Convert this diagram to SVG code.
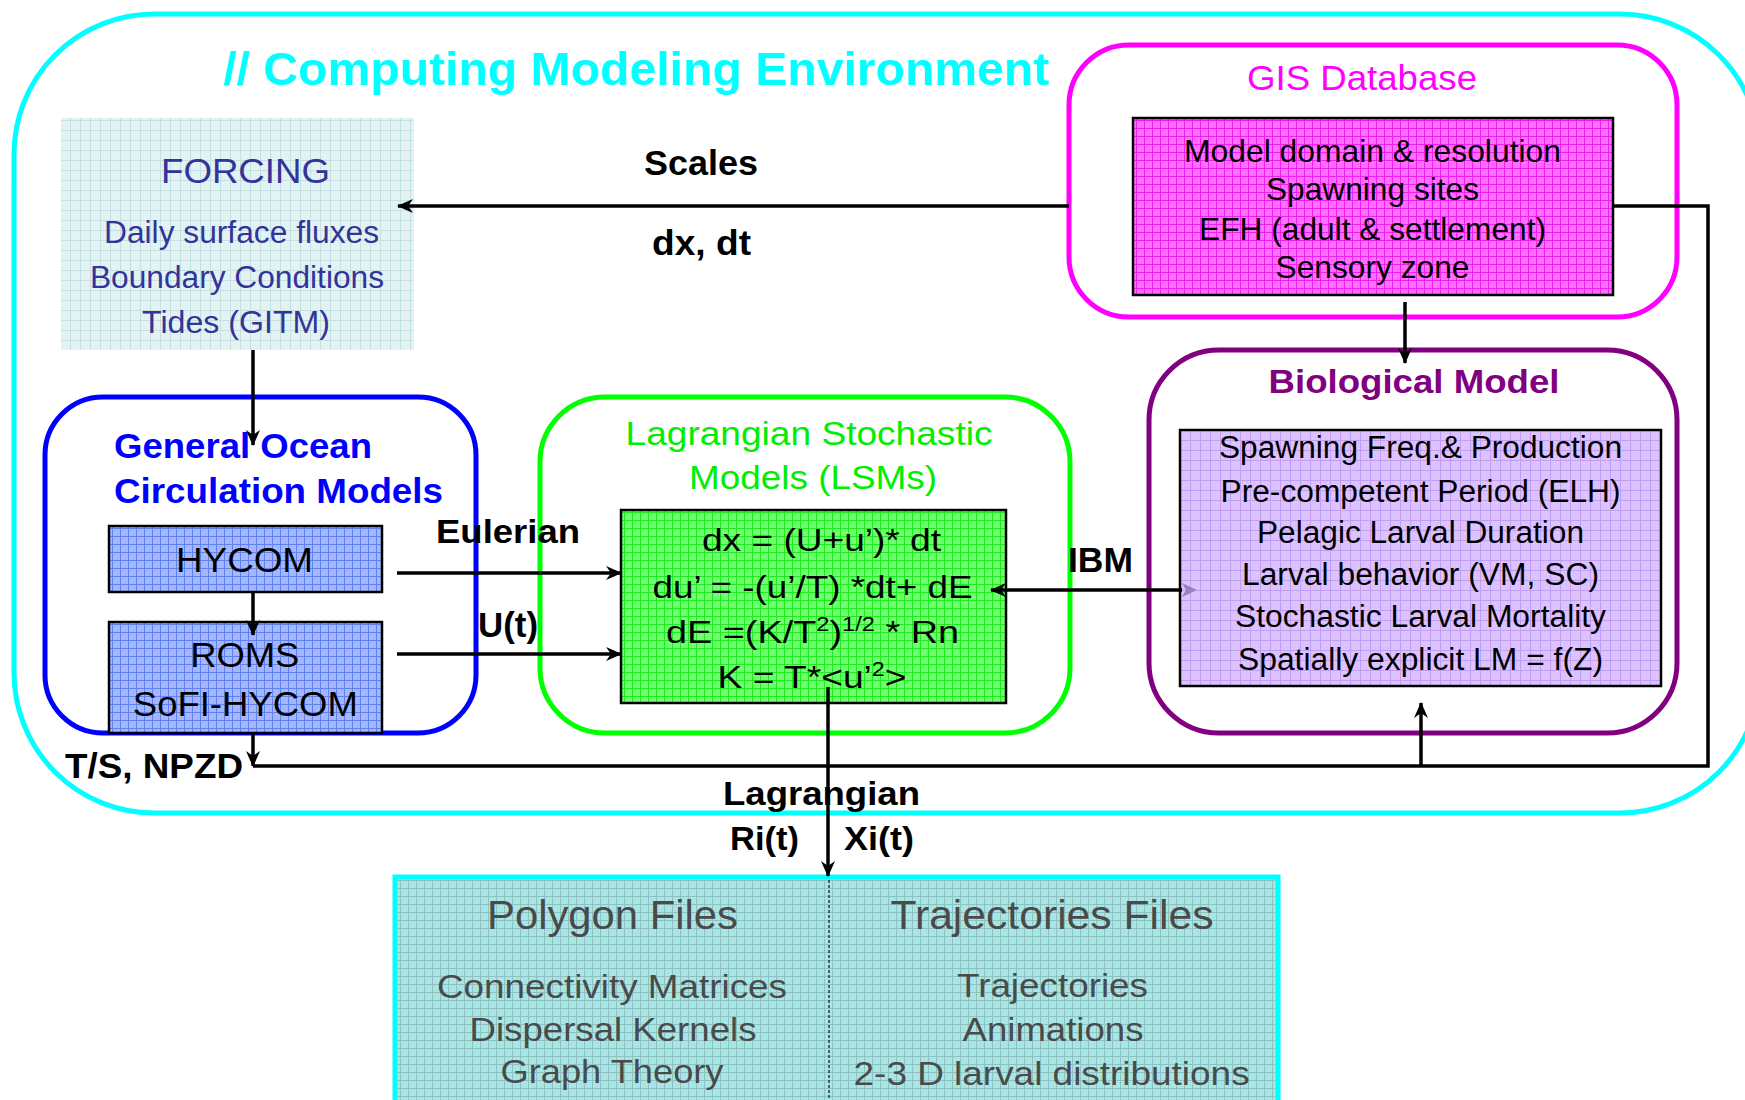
<svg xmlns="http://www.w3.org/2000/svg" width="1745" height="1100" viewBox="0 0 1745 1100">
<style>
text { font-family: "Liberation Sans", Arial, Helvetica, sans-serif; }
.b { font-weight: bold; }
.c { text-anchor: middle; }
.conn { stroke: #000; stroke-width: 3.5; fill: none; }
.inner { stroke: #000; stroke-width: 2.5; }
.cont { fill: #fff; stroke-width: 5; }
</style>
<defs>
<marker id="ah" viewBox="0 0 16 14" refX="15" refY="7" markerWidth="16" markerHeight="14" orient="auto" markerUnits="userSpaceOnUse">
<path d="M0,0 L16,7 L0,14 L5,7 Z" fill="#000"/>
</marker>
<pattern id="pForcing" width="10" height="10" patternUnits="userSpaceOnUse">
<rect width="10" height="10" fill="#E3F2F2"/><path d="M0,0.5 H10 M0.5,0 V10" stroke="#C4E0E0" stroke-width="1"/>
</pattern>
<pattern id="pMag" width="8" height="8" patternUnits="userSpaceOnUse">
<rect width="8" height="8" fill="#FF6EFF"/><path d="M0,0.5 H8 M0.5,0 V8" stroke="#EE22EE" stroke-width="1"/>
</pattern>
<pattern id="pBlue" width="8" height="8" patternUnits="userSpaceOnUse">
<rect width="8" height="8" fill="#A3B6FF"/><path d="M0,0.5 H8 M0.5,0 V8" stroke="#5F82F0" stroke-width="1"/>
</pattern>
<pattern id="pGreen" width="8" height="8" patternUnits="userSpaceOnUse">
<rect width="8" height="8" fill="#6EFF6E"/><path d="M0,0.5 H8 M0.5,0 V8" stroke="#22EA22" stroke-width="1"/>
</pattern>
<pattern id="pPurple" width="10" height="10" patternUnits="userSpaceOnUse">
<rect width="10" height="10" fill="#DCC2FF"/><path d="M0,0.5 H10 M0.5,0 V10" stroke="#C09EF2" stroke-width="1"/>
</pattern>
<pattern id="pTeal" width="8" height="8" patternUnits="userSpaceOnUse">
<rect width="8" height="8" fill="#A8E6E6"/><path d="M0,0.5 H8 M0.5,0 V8" stroke="#8EC2C2" stroke-width="1"/>
</pattern>
</defs>
<rect width="1745" height="1100" fill="#fff"/>

<g id="environment">
<rect x="14" y="14" width="1746" height="799" rx="140" ry="140" fill="none" stroke="#00FFFF" stroke-width="5"/>
<text x="223" y="85" class="b" font-size="46" fill="#00FFFF" textLength="826" lengthAdjust="spacingAndGlyphs">// Computing Modeling Environment</text>
</g>

<g id="forcing">
<rect x="61" y="118" width="353" height="232" fill="url(#pForcing)"/>
<g fill="#333399" class="c">
<text x="245.5" y="183" font-size="35" textLength="169" lengthAdjust="spacingAndGlyphs">FORCING</text>
<text x="241.5" y="243" font-size="31" textLength="275" lengthAdjust="spacingAndGlyphs">Daily surface fluxes</text>
<text x="237" y="288" font-size="31" textLength="294" lengthAdjust="spacingAndGlyphs">Boundary Conditions</text>
<text x="236" y="333" font-size="31" textLength="188" lengthAdjust="spacingAndGlyphs">Tides (GITM)</text>
</g>
</g>

<g id="gis">
<rect x="1069" y="45" width="608" height="272" rx="60" class="cont" stroke="#FF00FF"/>
<text x="1362" y="90" class="c" font-size="35" fill="#FF00FF" textLength="230" lengthAdjust="spacingAndGlyphs">GIS Database</text>
<rect x="1133" y="118" width="480" height="177" fill="url(#pMag)" class="inner"/>
<g class="c" font-size="30.5" fill="#000">
<text x="1372.5" y="162" textLength="377" lengthAdjust="spacingAndGlyphs">Model domain &amp; resolution</text>
<text x="1372.5" y="200" textLength="213" lengthAdjust="spacingAndGlyphs">Spawning sites</text>
<text x="1372.5" y="240" textLength="347" lengthAdjust="spacingAndGlyphs">EFH (adult &amp; settlement)</text>
<text x="1372.5" y="278" textLength="194" lengthAdjust="spacingAndGlyphs">Sensory zone</text>
</g>
</g>

<g id="bio">
<rect x="1149" y="350" width="528" height="383" rx="70" class="cont" stroke="#800080"/>
<text x="1414" y="393" class="b c" font-size="33" fill="#800080" textLength="291" lengthAdjust="spacingAndGlyphs">Biological Model</text>
<rect x="1180" y="430" width="481" height="256" fill="url(#pPurple)" class="inner"/>
<g class="c" font-size="31" fill="#000">
<text x="1420.5" y="458" textLength="403" lengthAdjust="spacingAndGlyphs">Spawning Freq.&amp; Production</text>
<text x="1420.5" y="502" textLength="400" lengthAdjust="spacingAndGlyphs">Pre-competent Period (ELH)</text>
<text x="1420.5" y="543" textLength="327" lengthAdjust="spacingAndGlyphs">Pelagic Larval Duration</text>
<text x="1420.5" y="585" textLength="357" lengthAdjust="spacingAndGlyphs">Larval behavior (VM, SC)</text>
<text x="1420.5" y="627" textLength="371" lengthAdjust="spacingAndGlyphs">Stochastic Larval Mortality</text>
<text x="1420.5" y="670" textLength="365" lengthAdjust="spacingAndGlyphs">Spatially explicit LM = f(Z)</text>
</g>
</g>

<g id="lsm">
<rect x="540" y="397" width="530" height="336" rx="65" class="cont" stroke="#00FF00"/>
<g class="c" font-size="33" fill="#00EE00">
<text x="809" y="445" textLength="367" lengthAdjust="spacingAndGlyphs">Lagrangian Stochastic</text>
<text x="813" y="489" textLength="248" lengthAdjust="spacingAndGlyphs">Models (LSMs)</text>
</g>
<rect x="621" y="510" width="385" height="193" fill="url(#pGreen)" class="inner"/>
<g class="c" font-size="32" fill="#000">
<text x="821.5" y="551" textLength="239" lengthAdjust="spacingAndGlyphs">dx = (U+u’)* dt</text>
<text x="812.5" y="598" textLength="320" lengthAdjust="spacingAndGlyphs">du’ = -(u’/T) *dt+ dE</text>
<text x="812.5" y="643" textLength="293" lengthAdjust="spacingAndGlyphs">dE =(K/T<tspan font-size="20" dy="-12">2</tspan><tspan dy="12">)</tspan><tspan font-size="20" dy="-12">1/2</tspan><tspan dy="12"> * Rn</tspan></text>
<text x="812" y="688" textLength="189" lengthAdjust="spacingAndGlyphs">K = T*&lt;u’<tspan font-size="20" dy="-12">2</tspan><tspan dy="12">&gt;</tspan></text>
</g>
</g>

<g id="gocm">
<rect x="45" y="397" width="431" height="336" rx="58" class="cont" stroke="#0000FF"/>
<g class="b" font-size="35" fill="#0000FF">
<text x="114" y="458" textLength="258" lengthAdjust="spacingAndGlyphs">General Ocean</text>
<text x="114" y="503" textLength="329" lengthAdjust="spacingAndGlyphs">Circulation Models</text>
</g>
</g>

<g id="hycom">
<rect x="109" y="526" width="273" height="66" fill="url(#pBlue)" class="inner"/>
<text x="244.5" y="572" class="c" font-size="35" textLength="137" lengthAdjust="spacingAndGlyphs">HYCOM</text>
</g>

<g id="roms">
<rect x="109" y="622" width="273" height="111" fill="url(#pBlue)" class="inner"/>
<text x="244.7" y="667" class="c" font-size="35" textLength="109" lengthAdjust="spacingAndGlyphs">ROMS</text>
<text x="245.3" y="716" class="c" font-size="35" textLength="225" lengthAdjust="spacingAndGlyphs">SoFI-HYCOM</text>
</g>

<g id="outputs">
<rect x="395" y="877" width="883" height="240" fill="url(#pTeal)" stroke="#00FFFF" stroke-width="5"/>
<line x1="829" y1="880" x2="829" y2="1100" stroke="#333" stroke-width="1.5" stroke-dasharray="3,2"/>
<g class="c" fill="#4A4A4A">
<text x="612.5" y="929" font-size="40" textLength="251" lengthAdjust="spacingAndGlyphs">Polygon Files</text>
<text x="612" y="998" font-size="33" textLength="350" lengthAdjust="spacingAndGlyphs">Connectivity Matrices</text>
<text x="613" y="1041" font-size="33" textLength="287" lengthAdjust="spacingAndGlyphs">Dispersal Kernels</text>
<text x="612" y="1083" font-size="33" textLength="223" lengthAdjust="spacingAndGlyphs">Graph Theory</text>
<text x="1052" y="929" font-size="40" textLength="323" lengthAdjust="spacingAndGlyphs">Trajectories Files</text>
<text x="1052.5" y="997" font-size="33" textLength="191" lengthAdjust="spacingAndGlyphs">Trajectories</text>
<text x="1053" y="1041" font-size="33" textLength="181" lengthAdjust="spacingAndGlyphs">Animations</text>
<text x="1051.6" y="1085" font-size="33" textLength="396" lengthAdjust="spacingAndGlyphs">2-3 D larval distributions</text>
</g>
</g>

<g id="connectors">
<path class="conn" d="M1069,206 H398" marker-end="url(#ah)"/>
<path class="conn" d="M253,350 V445" marker-end="url(#ah)"/>
<path class="conn" d="M253,592 V635" marker-end="url(#ah)"/>
<path class="conn" d="M253,733 V766" marker-end="url(#ah)"/>
<path class="conn" d="M1613,206 H1708 V766 H253"/>
<path class="conn" d="M1421,766 V703" marker-end="url(#ah)"/>
<path class="conn" d="M1405,302 V363" marker-end="url(#ah)"/>
<path class="conn" d="M397,573 H621" marker-end="url(#ah)"/>
<path class="conn" d="M397,654 H621" marker-end="url(#ah)"/>
<path class="conn" d="M1182,590 H991" marker-end="url(#ah)"/>
<path d="M1182,583 L1197,590 L1182,597 L1186,590 Z" fill="#9A80C0"/>
<path class="conn" d="M828,687 V876" marker-end="url(#ah)"/>
</g>

<g id="labels" class="b" fill="#000">
<text x="701" y="175" class="c" font-size="35" textLength="114" lengthAdjust="spacingAndGlyphs">Scales</text>
<text x="701.5" y="255" class="c" font-size="35" textLength="99" lengthAdjust="spacingAndGlyphs">dx, dt</text>
<text x="436" y="543" font-size="34" textLength="144" lengthAdjust="spacingAndGlyphs">Eulerian</text>
<text x="478" y="637" font-size="35" textLength="60" lengthAdjust="spacingAndGlyphs">U(t)</text>
<text x="1068" y="572" font-size="35" textLength="65" lengthAdjust="spacingAndGlyphs">IBM</text>
<text x="65" y="778" font-size="35" textLength="178" lengthAdjust="spacingAndGlyphs">T/S, NPZD</text>
<text x="723" y="805" font-size="33" textLength="197" lengthAdjust="spacingAndGlyphs">Lagrangian</text>
<text x="730" y="850" font-size="33" textLength="69" lengthAdjust="spacingAndGlyphs">Ri(t)</text>
<text x="844" y="850" font-size="33" textLength="70" lengthAdjust="spacingAndGlyphs">Xi(t)</text>
</g>
</svg>
